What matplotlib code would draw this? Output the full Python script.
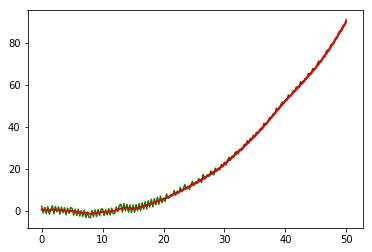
import matplotlib
matplotlib.use('Agg')
import matplotlib.pyplot as plt
import numpy as np

# noisy measurements, every 0.25 on x
x_noisy = np.arange(0, 50.25, 0.25)
y_noisy = [
    2.3, -0.9, 1.8, -1.2,
    2.1, -1.4, 0.6, 2.5,
    -1.3, 2.2, -0.4, 2.0,
    -1.5, 1.9, -0.8, 1.6,
    -1.8, 1.4, -1.1, 1.7,
    1.3, -1.9, 0.9, -2.1,
    0.9, -2.4, 0.2, -2.6,
    0.5, -3.1, -0.4, -2.9,
    -3.2, 0.3, -2.7, 0.6,
    -2.6, 0.8, -2.2, 0.9,
    1.0, -2.1, 0.6, -1.8,
    1.2, -1.9, 1.4, -1.3,
    -1.1, 2.0, -0.3, 2.6,
    3.3, -0.4, 3.6, 0.1,
    3.2, -0.5, 2.9, -0.7,
    2.9, -0.6, 3.1, 0.1,
    3.6, 0.2, 3.9, 0.9,
    4.5, 1.0, 5.0, 1.9,
    5.6, 2.0, 5.9, 3.0,
    6.6, 3.2, 7.1, 4.0,
    6.2, 4.6, 8.1, 6.0,
    6.5, 8.1, 7.2, 9.8,
    7.6, 9.5, 8.4, 11.2,
    9.2, 10.6, 12.6, 10.4,
    11.8, 10.3, 12.4, 14.2,
    12.1, 13.9, 13.0, 15.3,
    15.1, 13.6, 17.5, 15.2,
    16.0, 17.3, 16.5, 19.0,
    18.5, 17.2, 20.4, 18.9,
    20.3, 19.6, 22.2, 21.0,
    23.2, 21.9, 23.9, 25.6,
    24.2, 26.1, 25.4, 27.9,
    28.3, 27.1, 29.4, 28.8,
    29.4, 31.8, 31.2, 33.5,
    32.4, 34.6, 34.0, 36.1,
    35.3, 37.6, 36.8, 38.4,
    39.5, 39.0, 41.9, 41.0,
    41.5, 43.6, 44.6, 44.3,
    46.3, 45.8, 48.9, 48.5,
    48.5, 50.6, 51.9, 51.2,
    53.0, 52.6, 55.3, 54.6,
    54.9, 57.2, 56.8, 58.9,
    59.2, 58.8, 61.6, 60.9,
    61.1, 63.2, 62.9, 65.4,
    65.5, 65.1, 67.9, 67.3,
    68.0, 69.9, 71.5, 70.7,
    71.5, 73.8, 73.4, 76.3,
    76.7, 76.4, 79.3, 79.1,
    80.0, 82.4, 82.1, 85.0,
    85.9, 85.6, 88.4, 88.2,
    91.2,
]

# smoothed curves, every 1 on x
x_smooth = np.arange(0, 51, 1)
y_blue = [
    0.5, 0.4, 0.6, 0.4, 0.1, -0.1, -0.4, -0.8, -1.2, -0.9,
    -0.5, -0.4, 0.1, 1.0, 1.4, 1.1, 1.5, 2.4, 3.4, 4.5,
    5.6, 6.9, 8.2, 9.7, 11.1, 12.7, 14.3, 16.1, 17.8, 19.8,
    22.1, 24.7, 27.3, 29.9, 32.7, 35.6, 38.6, 41.9, 45.4, 48.9,
    52.2, 55.3, 58.3, 61.5, 64.7, 68.1, 71.9, 75.9, 80.4, 85.1,
    89.9,
]
y_black = [
    0.6, 0.3, 0.7, 0.5, 0.1, 0.0, -0.5, -0.9, -1.2, -0.8,
    -0.5, -0.3, 0.3, 1.2, 1.6, 1.1, 1.6, 2.6, 3.6, 4.7,
    5.8, 7.1, 8.5, 10.1, 11.6, 13.1, 14.8, 16.6, 18.3, 20.3,
    22.6, 25.2, 27.8, 30.4, 33.2, 36.1, 39.1, 42.4, 45.9, 49.4,
    52.7, 55.8, 58.8, 62.0, 65.2, 68.6, 72.4, 76.4, 80.9, 85.6,
    90.3,
]
y_red = [
    0.8, 0.3, 0.7, 0.4, 0.1, -0.1, -0.5, -0.9, -1.3, -0.9,
    -0.5, -0.4, 0.2, 1.1, 1.4, 1.0, 1.5, 2.5, 3.5, 4.6,
    5.7, 7.0, 8.3, 9.8, 11.2, 12.8, 14.4, 16.2, 17.9, 19.9,
    22.2, 24.8, 27.4, 30.0, 32.8, 35.7, 38.7, 42.0, 45.5, 49.0,
    52.3, 55.4, 58.4, 61.6, 64.8, 68.2, 72.0, 76.0, 80.5, 85.2,
    90.0,
]

fig = plt.figure(figsize=(372 / 72, 252 / 72), dpi=72)
ax = fig.add_axes([27.5 / 372, 1 - 228.3 / 252, 335 / 372, 218.3 / 252])

ax.plot(x_noisy, y_noisy, color='green', linewidth=1.5)
ax.plot(x_smooth, y_blue, color='blue', linewidth=1.0)
ax.plot(x_smooth, y_black, color='black', linewidth=1.0)
ax.plot(x_smooth, y_red, color='red', linewidth=2.0)

ax.set_xlim(-2.33, 52.67)
ax.set_ylim(-8.2, 95.7)
ax.set_xticks([0, 10, 20, 30, 40, 50])
ax.set_yticks([0, 20, 40, 60, 80])
ax.tick_params(labelsize=10)

fig.savefig('out.png', dpi=72)
